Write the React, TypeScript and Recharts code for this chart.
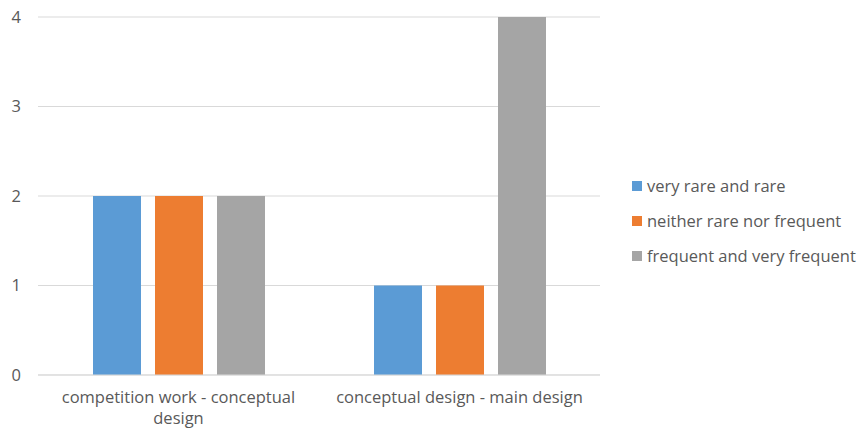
import React from "react";
import { BarChart, Bar, XAxis, YAxis, CartesianGrid, Text } from "recharts";

const categories = ["competition work - conceptual design", "conceptual design - main design"];
const veryRareAndRare = [2, 1];
const neitherRareNorFrequent = [2, 1];
const frequentAndVeryFrequent = [2, 4];
const yTicks = [0, 1, 2, 3, 4];

const seriesNames = ["very rare and rare", "neither rare nor frequent", "frequent and very frequent"];
const seriesKeys = ["a", "b", "c"];
const seriesColors = ["#5B9BD5", "#ED7D31", "#A5A5A5"];

const data = categories.map((name, i) => ({
  name,
  a: veryRareAndRare[i],
  b: neitherRareNorFrequent[i],
  c: frequentAndVeryFrequent[i],
}));

const FONT = "'Open Sans', sans-serif";
const FS = 16.5;
const TEXT_COLOR = "#595959";

const XTick = (props: any) => {
  const { x, y, payload } = props;
  return (
    <Text
      x={x}
      y={y + 14}
      width={262}
      textAnchor="middle"
      verticalAnchor="start"
      lineHeight={21}
      fill={TEXT_COLOR}
      fontSize={FS}
      fontFamily={FONT}
      style={{ fontFamily: FONT, fontSize: FS }}
    >
      {payload.value}
    </Text>
  );
};

const LegendBox = () => (
  <div
    style={{
      position: "absolute",
      left: 632,
      top: 168,
      width: 226,
      fontFamily: FONT,
      fontSize: FS,
      color: TEXT_COLOR,
    }}
  >
    {seriesNames.map((n, i) => (
      <div key={n} style={{ display: "flex", alignItems: "center", height: 35, whiteSpace: "nowrap" }}>
        <span
          style={{
            display: "inline-block",
            width: 10,
            height: 10,
            background: seriesColors[i],
            marginRight: 5,
          }}
        />
        <span>{n}</span>
      </div>
    ))}
  </div>
);

export default function App() {
  return (
    <div style={{ position: "absolute", left: 0, top: 0, width: 858, height: 432, background: "#fff" }}>
      <BarChart
        width={858}
        height={432}
        data={data}
        margin={{ top: 17, right: 258, bottom: 0, left: 0 }}
        barSize={48}
        barGap={14}
      >
        <CartesianGrid vertical={false} stroke="#D9D9D9" />
        <XAxis
          dataKey="name"
          height={57}
          tickLine={false}
          axisLine={{ stroke: "#D9D9D9" }}
          tickSize={0}
          tick={<XTick />}
          interval={0}
        />
        <YAxis
          width={38}
          domain={[0, 4]}
          ticks={yTicks}
          tickLine={false}
          axisLine={false}
          tickSize={0}
          tickMargin={17}
          tick={{ fill: TEXT_COLOR, fontSize: FS, fontFamily: FONT }}
        />
        {seriesKeys.map((k, i) => (
          <Bar key={k} dataKey={k} name={seriesNames[i]} fill={seriesColors[i]} isAnimationActive={false} />
        ))}
      </BarChart>
      <LegendBox />
    </div>
  );
}
